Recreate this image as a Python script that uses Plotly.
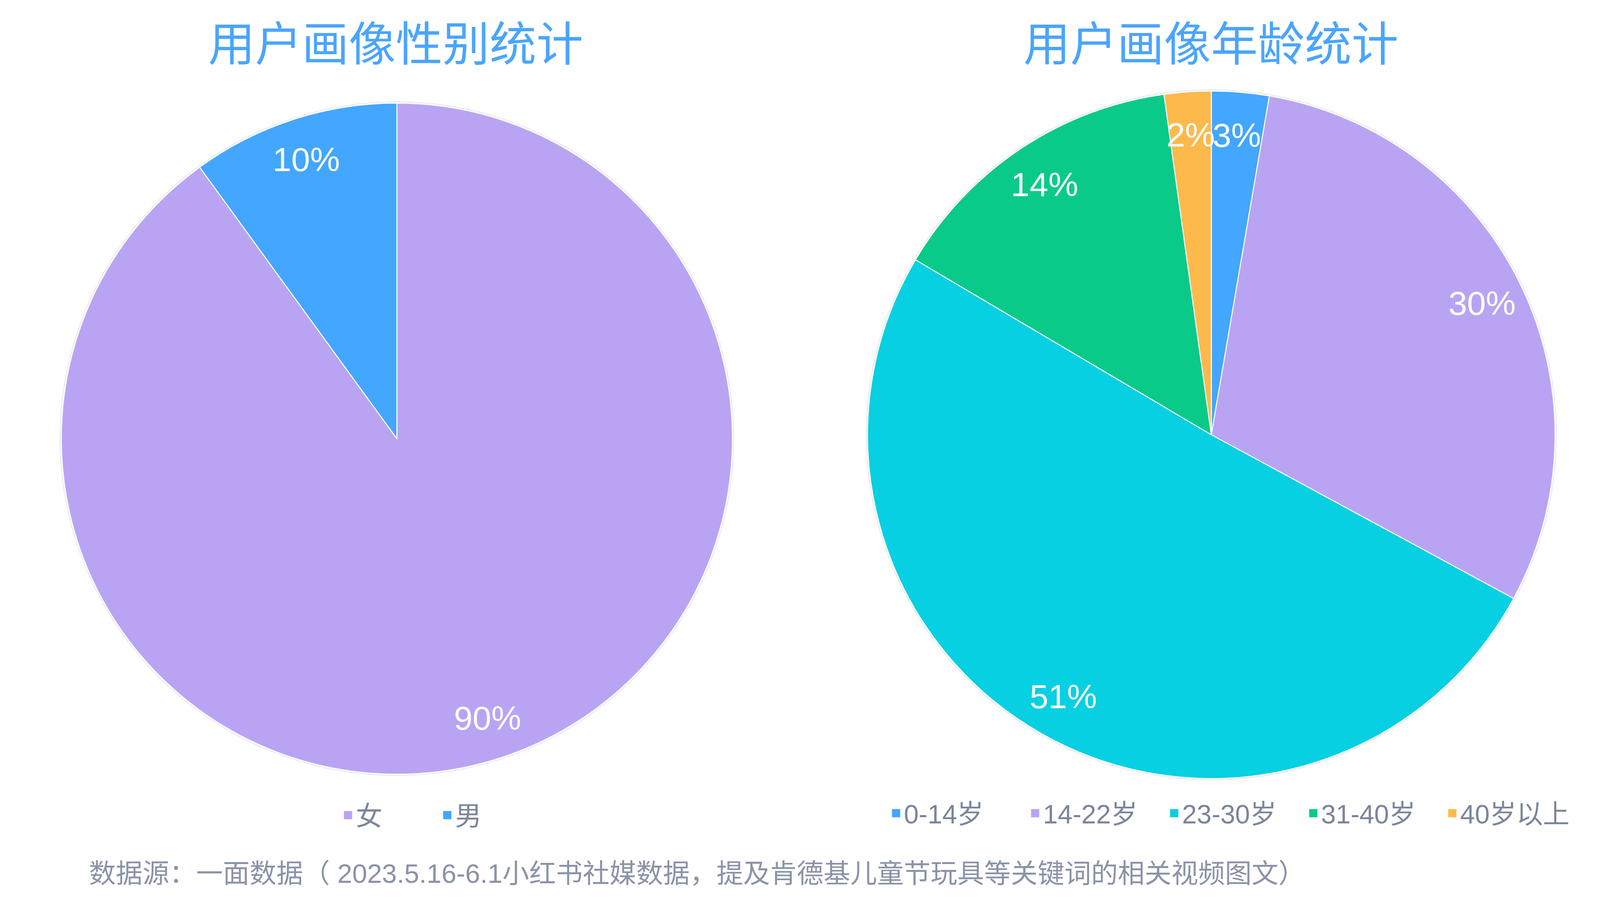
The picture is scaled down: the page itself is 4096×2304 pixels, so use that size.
import math
import plotly.graph_objects as go

# ---------------- data ----------------
gender_labels = ["女", "男"]
gender_values = [90, 10]
gender_colors = ["#B9A4F3", "#43A6FF"]

age_labels = ["0-14岁", "14-22岁", "23-30岁", "31-40岁", "40岁以上"]
age_values = [2.7, 30.2, 50.6, 14.3, 2.2]
age_colors = ["#43A6FF", "#B9A4F3", "#06D0E1", "#0ACA89", "#FEB94D"]

title_left = "用户画像性别统计"
title_right = "用户画像年龄统计"
footnote = "数据源：一面数据（ 2023.5.16-6.1小红书社媒数据，提及肯德基儿童节玩具等关键词的相关视频图文）"

# ---------------- layout geometry ----------------
W, H = 4096, 2304
LEFT = dict(cx=1008, cy=1115, r=859)
RIGHT = dict(cx=3093, cy=1105, r=880)
LABEL_R = 0.875
RING = 5  # light shadow ring thickness (px)


def domain(g, extra=0):
    r = g["r"] + extra
    return dict(
        x=[(g["cx"] - r) / W, (g["cx"] + r) / W],
        y=[1 - (g["cy"] + r) / H, 1 - (g["cy"] - r) / H],
    )


def pct_annotations(values, g):
    total = float(sum(values))
    out = []
    cum = 0.0
    for v in values:
        mid = (cum + v / 2.0) / total
        cum += v
        th = 2 * math.pi * mid
        xp = g["cx"] + LABEL_R * g["r"] * math.sin(th)
        yp = g["cy"] - LABEL_R * g["r"] * math.cos(th)
        out.append(dict(
            x=xp / W, y=1 - yp / H, xref="paper", yref="paper",
            text=f"{round(100 * v / total)}%", showarrow=False,
            xanchor="center", yanchor="middle",
            font=dict(family="Liberation Sans, Arial", size=86, color="#FFFFFF"),
        ))
    return out


fig = go.Figure()

# faint shadow rings behind the pies
for g in (LEFT, RIGHT):
    fig.add_trace(go.Pie(
        values=[1], labels=[""], sort=False, textinfo="none", hoverinfo="skip",
        marker=dict(colors=["#EFF0F3"], line=dict(width=0)),
        domain=domain(g, RING), showlegend=False,
    ))

fig.add_trace(go.Pie(
    labels=gender_labels, values=gender_values, sort=False,
    direction="clockwise", rotation=0,
    marker=dict(colors=gender_colors, line=dict(color="#FFFFFF", width=2.5)),
    textinfo="none", hoverinfo="label+percent",
    domain=domain(LEFT), showlegend=False,
))

fig.add_trace(go.Pie(
    labels=age_labels, values=age_values, sort=False,
    direction="clockwise", rotation=0,
    marker=dict(colors=age_colors, line=dict(color="#FFFFFF", width=2.5)),
    textinfo="none", hoverinfo="label+percent",
    domain=domain(RIGHT), showlegend=False,
))

# legend entries (square swatches)
for lab, col in zip(gender_labels, gender_colors):
    fig.add_trace(go.Scatter(
        x=[None], y=[None], mode="markers", name=lab,
        marker=dict(symbol="square", size=27, color=col, line=dict(width=5, color=col)),
        legend="legend", showlegend=True, hoverinfo="skip",
    ))
for lab, col in zip(age_labels, age_colors):
    fig.add_trace(go.Scatter(
        x=[None], y=[None], mode="markers", name=lab,
        marker=dict(symbol="square", size=27, color=col, line=dict(width=5, color=col)),
        legend="legend2", showlegend=True, hoverinfo="skip",
    ))

legend_font = dict(family="Liberation Sans, Noto Sans CJK SC", size=68, color="#7B859C")

annotations = []
annotations += pct_annotations(gender_values, LEFT)
annotations += pct_annotations(age_values, RIGHT)
annotations.append(dict(
    x=1005 / W, y=1 - 96 / H, xref="paper", yref="paper",
    text=title_left, showarrow=False, xanchor="center", yanchor="middle",
    font=dict(family="Noto Sans CJK SC", size=120, color="#4AA5FF"),
))
annotations.append(dict(
    x=3092 / W, y=1 - 96 / H, xref="paper", yref="paper",
    text=title_right, showarrow=False, xanchor="center", yanchor="middle",
    font=dict(family="Noto Sans CJK SC", size=120, color="#4AA5FF"),
))
annotations.append(dict(
    x=218 / W, y=1 - 2228 / H, xref="paper", yref="paper",
    text=footnote, showarrow=False, xanchor="left", yanchor="middle",
    font=dict(family="Liberation Sans, Noto Sans CJK SC", size=68.5, color="#8A93A8"),
))

fig.update_layout(
    width=W, height=H,
    margin=dict(l=0, r=0, t=0, b=0),
    paper_bgcolor="#FFFFFF", plot_bgcolor="#FFFFFF",
    showlegend=True,
    xaxis=dict(visible=False), yaxis=dict(visible=False),
    legend=dict(
        orientation="h", x=863 / W, y=1 - 2079 / H, xanchor="left", yanchor="middle",
        font=legend_font, entrywidth=209, entrywidthmode="pixels",
        bgcolor="rgba(0,0,0,0)", itemsizing="trace",
    ),
    legend2=dict(
        orientation="h", x=2266 / W, y=1 - 2074 / H, xanchor="left", yanchor="middle",
        font=legend_font, entrywidth=311, entrywidthmode="pixels",
        bgcolor="rgba(0,0,0,0)", itemsizing="trace",
    ),
    annotations=annotations,
)

fig.write_html("out.html")
